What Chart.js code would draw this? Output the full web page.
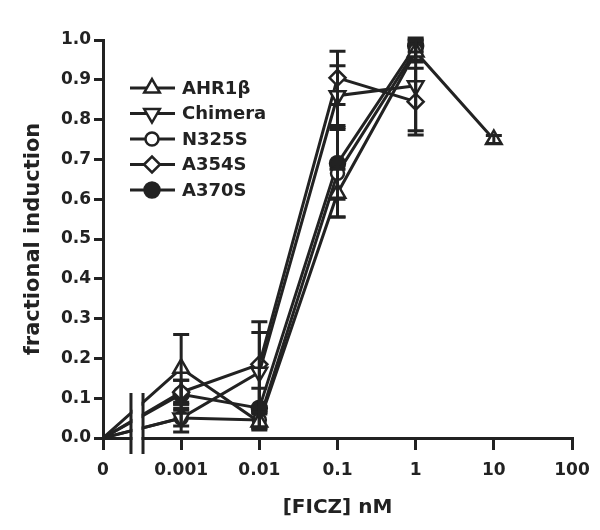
<!DOCTYPE html>
<html>
<head>
<meta charset="utf-8">
<script src="https://cdn.jsdelivr.net/npm/chart.js@4/dist/chart.umd.min.js"></script>
<style>
  html, body { margin: 0; padding: 0; background: #fff; }
  #wrap { width: 600px; height: 530px; }
</style>
</head>
<body>
<div id="wrap"><canvas id="chart" width="600" height="530"></canvas></div>
<script>
  // ----- Data -----
  const doses = [0, 0.001, 0.01, 0.1, 1, 10];              // [FICZ] nM
  const xTickValues = [0, 0.001, 0.01, 0.1, 1, 10, 100];
  const xTickLabels = ["0", "0.001", "0.01", "0.1", "1", "10", "100"];

  const seriesNames = ["AHR1β", "Chimera", "N325S", "A354S", "A370S"];
  const ahr1bMean   = [0, 0.175, 0.04, 0.615, 0.97, 0.75];
  const ahr1bErr    = [0, 0.085, 0.02, 0.06, 0.02, 0.01];
  const chimeraMean = [0, 0.05, 0.165, 0.86, 0.885];
  const chimeraErr  = [0, 0.035, 0.10, 0.075, 0.113];
  const n325sMean   = [0, 0.05, 0.045, 0.665, 0.975];
  const n325sErr    = [0, 0.02, 0.02, 0.11, 0.03];
  const a354sMean   = [0, 0.115, 0.185, 0.905, 0.845];
  const a354sErr    = [0, 0.03, 0.107, 0.067, 0.084];
  const a370sMean   = [0, 0.11, 0.075, 0.69, 0.985];
  const a370sErr    = [0, 0.035, 0.05, 0.09, 0.015];

  // zero dose sits one decade left of 0.001 on the log axis, behind a break
  const ZERO_AT = 1e-4;
  const BREAK_LO = 2.28e-4;
  const BREAK_HI = 3.25e-4;
  const INK = "#222";

  Chart.defaults.font.family = "'DejaVu Sans', sans-serif";
  Chart.defaults.font.weight = "bold";
  Chart.defaults.color = INK;

  function points(means, errs) {
    return means.map((m, i) => ({
      x: doses[i] === 0 ? ZERO_AT : doses[i],
      y: m,
      err: errs[i],
    }));
  }

  function makeSeries(label, means, errs, style, rot, fill, r) {
    return {
      label,
      data: points(means, errs),
      pointStyle: style,
      pointRotation: rot,
      pointRadius: (c) => (c.dataIndex === 0 ? 0 : r),
      pointHoverRadius: (c) => (c.dataIndex === 0 ? 0 : r),
      pointBackgroundColor: fill,
      pointBorderColor: INK,
      pointBorderWidth: 2.5,
      borderColor: INK,
      borderWidth: 3,
      fill: false,
      tension: 0,
      legendRadius: r,
    };
  }

  const datasets = [
    makeSeries(seriesNames[0], ahr1bMean, ahr1bErr, "triangle", 0, "#fff", 9),
    makeSeries(seriesNames[1], chimeraMean, chimeraErr, "triangle", 180, "#fff", 9),
    makeSeries(seriesNames[2], n325sMean, n325sErr, "circle", 0, "#fff", 6.5),
    makeSeries(seriesNames[3], a354sMean, a354sErr, "rectRot", 0, "#fff", 8),
    makeSeries(seriesNames[4], a370sMean, a370sErr, "circle", 0, INK, 7.5),
  ];

  // ----- Plugins -----
  const errorBars = {
    id: "errorBars",
    afterDatasetsDraw(chart) {
      const { ctx } = chart;
      const xs = chart.scales.x, ys = chart.scales.y;
      ctx.save();
      ctx.strokeStyle = INK;
      ctx.lineWidth = 3;
      chart.data.datasets.forEach((ds) => {
        ds.data.forEach((p) => {
          if (!p.err) return;
          const px = xs.getPixelForValue(p.x);
          const top = ys.getPixelForValue(p.y + p.err);
          const bot = ys.getPixelForValue(Math.max(0, p.y - p.err));
          ctx.beginPath();
          ctx.moveTo(px, top); ctx.lineTo(px, bot);
          ctx.moveTo(px - 8, top); ctx.lineTo(px + 8, top);
          ctx.moveTo(px - 8, bot); ctx.lineTo(px + 8, bot);
          ctx.stroke();
        });
      });
      ctx.restore();
    },
  };

  const axisBreak = {
    id: "axisBreak",
    afterDatasetsDraw(chart) {
      const { ctx, chartArea } = chart;
      const xs = chart.scales.x;
      const a = xs.getPixelForValue(BREAK_LO);
      const b = xs.getPixelForValue(BREAK_HI);
      ctx.save();
      ctx.fillStyle = "#fff";
      ctx.fillRect(a + 1.5, chartArea.top, b - a - 3, chartArea.bottom - chartArea.top + 3);
      ctx.strokeStyle = INK;
      ctx.lineWidth = 3;
      ctx.beginPath();
      ctx.moveTo(a, chartArea.bottom - 45); ctx.lineTo(a, chartArea.bottom + 16);
      ctx.moveTo(b, chartArea.bottom - 45); ctx.lineTo(b, chartArea.bottom + 16);
      ctx.stroke();
      ctx.restore();
    },
  };

  const lineLegend = {
    id: "lineLegend",
    afterDraw(chart) {
      const { ctx } = chart;
      const x0 = 130, x1 = 175, mx = 152, tx = 182, y0 = 88, dy = 25.5;
      ctx.save();
      ctx.font = "bold 18px 'DejaVu Sans', sans-serif";
      ctx.textBaseline = "middle";
      ctx.textAlign = "left";
      chart.data.datasets.forEach((ds, i) => {
        const y = y0 + i * dy;
        ctx.strokeStyle = INK;
        ctx.lineWidth = 3;
        ctx.beginPath();
        ctx.moveTo(x0, y); ctx.lineTo(x1, y);
        ctx.stroke();
        ctx.fillStyle = ds.pointBackgroundColor;
        ctx.lineWidth = 2.5;
        Chart.helpers.drawPoint(ctx, {
          pointStyle: ds.pointStyle,
          radius: ds.legendRadius,
          rotation: ds.pointRotation,
          borderWidth: 2.5,
        }, mx, y);
        ctx.fillStyle = INK;
        ctx.fillText(ds.label, tx, y + 1);
      });
      ctx.restore();
    },
  };

  // ----- Chart -----
  new Chart(document.getElementById("chart"), {
    type: "line",
    data: { datasets },
    options: {
      responsive: false,
      animation: false,
      layout: { padding: { left: 0, right: 28, top: 40, bottom: 0 } },
      plugins: { legend: { display: false }, tooltip: { enabled: false } },
      scales: {
        x: {
          type: "logarithmic",
          min: ZERO_AT,
          max: 100,
          afterBuildTicks: (s) => {
            s.ticks = xTickValues.map((v) => ({ value: v === 0 ? ZERO_AT : v }));
          },
          afterFit: (s) => { s.height = 92; },
          ticks: {
            autoSkip: false,
            maxRotation: 0,
            padding: 10,
            color: INK,
            font: { size: 17, weight: "bold" },
            callback: (v, i) => xTickLabels[i],
          },
          grid: { drawOnChartArea: false, color: INK, lineWidth: 3, tickLength: 12 },
          border: { color: INK, width: 3 },
          title: {
            display: true,
            text: "[FICZ] nM",
            color: INK,
            font: { size: 20, weight: "bold" },
            padding: { top: 0, bottom: 10 },
          },
        },
        y: {
          min: 0,
          max: 1,
          afterFit: (s) => { s.width = 103; },
          ticks: {
            stepSize: 0.1,
            padding: 3,
            color: INK,
            font: { size: 17, weight: "bold" },
            callback: (v) => Number(v).toFixed(1),
          },
          grid: { drawOnChartArea: false, color: INK, lineWidth: 3, tickLength: 9 },
          border: { color: INK, width: 3 },
          title: {
            display: true,
            text: "fractional induction",
            color: INK,
            font: { size: 21, weight: "bold" },
            padding: { top: 21, bottom: 0 },
          },
        },
      },
    },
    plugins: [errorBars, axisBreak, lineLegend],
  });
</script>
</body>
</html>
